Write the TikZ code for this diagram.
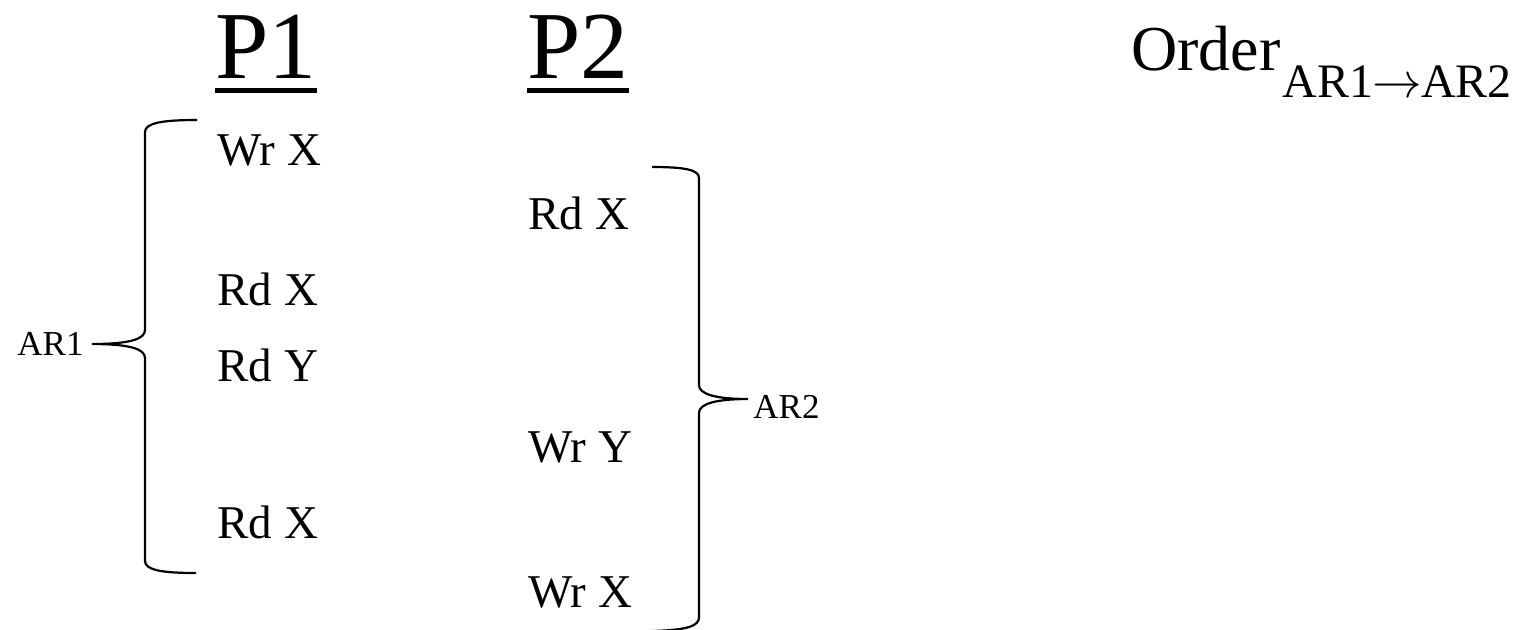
\documentclass[tikz,border=0pt]{standalone}
\usepackage{fontspec}
\setmainfont{Liberation Serif}
\begin{document}
\begin{tikzpicture}[x=0.5pt,y=-0.5pt,
  txt/.style={anchor=base west,inner sep=0pt,font=\fontsize{23.5pt}{28pt}\selectfont},
  head/.style={anchor=base west,inner sep=0pt,font=\fontsize{48pt}{56pt}\selectfont},
  lab/.style={inner sep=0pt,font=\fontsize{17.5pt}{21pt}\selectfont},
  ul/.style={line width=2.2pt},
  brace/.style={line width=1.1pt}]
\useasboundingbox (0,0) rectangle (1518,629);
% headers
\node[head] (p1) at (215,78) {P1};
\node[head] (p2) at (527,78) {P2};
\draw[ul] ([yshift=-6.25pt]p1.base west) -- ([yshift=-6.25pt]p1.base east);
\draw[ul] ([yshift=-6.25pt]p2.base west) -- ([yshift=-6.25pt]p2.base east);
\node[anchor=base east,inner sep=0pt,font=\fontsize{32pt}{38pt}\selectfont] (ord) at (1281,70) {Order};
\node[anchor=base west,inner sep=0pt,font=\fontsize{24pt}{28pt}\selectfont] (sub) at (1282,97) {AR1\makebox[1em]{$\rightarrow$}AR2};
% P1 column
\node[txt] (a1) at (217,165) {Wr X};
\node[txt] (a2) at (217,305) {Rd X};
\node[txt] (a3) at (217,381) {Rd Y};
\node[txt] (a4) at (217,538) {Rd X};
% P2 column
\node[txt] (b1) at (528,229) {Rd X};
\node[txt] (b2) at (528,462) {Wr Y};
\node[txt] (b3) at (528,607) {Wr X};
% left brace
\coordinate (lt) at (92,344);
\draw[brace] (197,120) .. controls (162,120) and (145,123) .. (145,132) -- (145,330)
  .. controls (145,339) and (130,344) .. (lt)
  .. controls (130,344) and (145,349) .. (145,358) -- (145,561)
  .. controls (145,570) and (162,573) .. (196,573);
\node[lab,anchor=base east] (ar1) at (84,355) {AR1};
% right brace
\coordinate (rt) at (748,399);
\draw[brace] (652,167) .. controls (686,167) and (699,170) .. (699,178) -- (699,385)
  .. controls (699,394) and (715,399) .. (rt)
  .. controls (715,399) and (699,404) .. (699,413) -- (699,617)
  .. controls (699,626) and (688,630) .. (652,631);
\node[lab,anchor=base west] (ar2) at (753,418) {AR2};
\end{tikzpicture}
\end{document}
